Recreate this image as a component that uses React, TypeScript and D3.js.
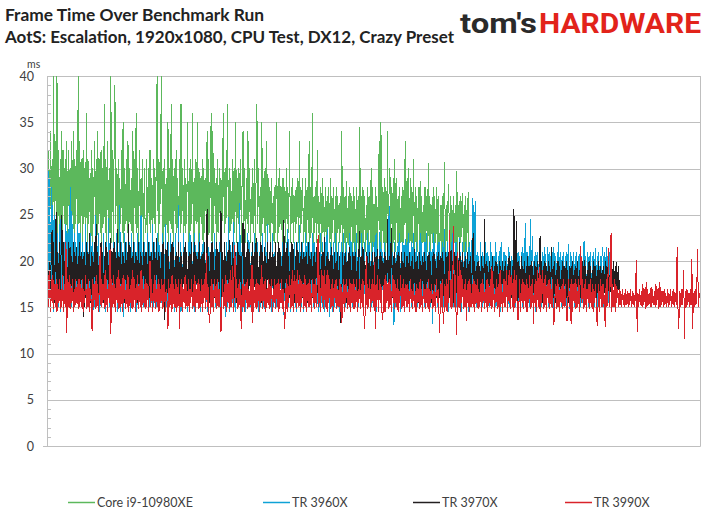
import { useEffect, useRef } from 'react';
import * as d3 from 'd3';

const SERIES_NAMES = ['Core i9-10980XE', 'TR 3960X', 'TR 3970X', 'TR 3990X'];
const SERIES_COLORS = ['#5cb85c', '#0ea2d6', '#231f20', '#d9232a'];
const Y_TICKS = [0, 5, 10, 15, 20, 25, 30, 35, 40];
const LEGEND_X = [68, 263, 413, 565];

// frame times in ms (one value per ~0.8px of the run)
const i9Frames = [
  24, 32, 23, 34, 22, 31, 24, 40, 23, 33, 25, 40, 22, 32, 24, 31, 23, 34, 22, 32,
  24, 31, 23, 33, 22, 32, 24, 30, 23, 33, 25, 34, 22, 31, 24, 32, 23, 40, 24, 33,
  23, 31, 22, 32, 24, 30, 23, 36, 22, 31, 24, 29, 23, 32, 22, 30, 24, 33, 23, 31,
  22, 34, 24, 31, 23, 32, 22, 30, 24, 37, 23, 31, 22, 33, 24, 30, 23, 40, 22, 32,
  22, 32, 39, 24, 30, 23, 31, 22, 29, 24, 32, 23, 35, 22, 30, 24, 31, 23, 33, 22,
  30, 24, 29, 23, 34, 22, 31, 24, 36, 23, 30, 22, 32, 24, 29, 23, 31, 22, 30, 24,
  23, 31, 22, 30, 24, 32, 23, 29, 22, 31, 24, 30, 23, 38, 40, 22, 31, 24, 32, 40,
  23, 30, 22, 31, 24, 29, 23, 35, 22, 30, 24, 37, 23, 31, 22, 30, 24, 32, 23, 29,
  22, 31, 23, 37, 24, 30, 22, 31, 23, 29, 24, 35, 22, 30, 23, 31, 24, 36, 22, 29,
  23, 31, 24, 35, 22, 30, 23, 29, 24, 31, 22, 30, 23, 29, 24, 34, 22, 31, 23, 30,
  36, 22, 34, 23, 30, 24, 29, 22, 31, 23, 30, 24, 29, 22, 31, 36, 23, 30, 24, 29,
  37, 22, 30, 23, 29, 24, 31, 22, 30, 23, 35, 22, 29, 24, 30, 23, 31, 22, 30, 34,
  23, 30, 22, 29, 24, 34, 23, 30, 22, 28, 24, 30, 23, 31, 22, 29, 37, 24, 30, 23,
  28, 22, 35, 24, 29, 23, 30, 22, 33, 24, 29, 23, 28, 22, 29, 24, 27, 22, 28, 23,
  35, 22, 29, 23, 30, 24, 28, 22, 29, 23, 28, 22, 30, 24, 28, 23, 34, 22, 28, 24,
  29, 22, 27, 23, 28, 24, 29, 22, 33, 23, 28, 24, 29, 22, 27, 23, 29, 22, 28, 23,
  33, 22, 28, 23, 36, 21, 27, 23, 28, 22, 32, 23, 27, 22, 28, 21, 29, 23, 27, 22,
  28, 21, 27, 23, 28, 22, 29, 21, 27, 23, 28, 22, 27, 21, 28, 23, 26, 22, 27, 23,
  34, 21, 28, 22, 27, 21, 28.7, 22, 27, 21, 28, 22, 27, 21, 28, 22, 27, 21, 28, 22,
  27, 21, 34.5, 22, 27, 21, 28, 22, 27, 21, 26, 22, 28, 21, 27, 22, 30, 21, 28, 22,
  21, 28, 22, 27, 21, 29, 33, 22, 35, 21, 28, 22, 29, 21, 28, 22, 34, 21, 28, 30,
  22, 28, 21, 29, 22, 31, 21, 29, 22, 27, 21, 28, 22, 27, 21, 28, 22, 29, 33, 21,
  29, 21, 30, 22, 29, 21, 28, 22, 31, 21, 28, 22, 27, 21, 28, 22, 28.6, 21, 27, 22,
  26, 21, 28, 22, 27, 21, 30.6, 22, 27, 21, 26, 22, 28, 21, 27, 22, 28, 21, 27, 21,
  21, 26, 20, 27, 21, 26, 30.7, 21, 26, 22, 26, 28.3, 21, 27, 20, 26, 21, 27, 22, 26,
  21, 29.7, 20, 26, 21, 27, 22, 26, 27.4, 21, 26, 20, 27, 21, 25, 27.5, 21, 22,
];

const tr3960Frames = [
  30, 16, 29, 15, 28, 15.5, 26, 14.5, 25, 15, 24, 15.5, 23, 15, 24, 14.5, 25, 16, 23, 15,
  22, 15, 24, 14.5, 23, 15, 26, 15.5, 28, 15, 24, 14.5, 23, 15, 22, 15.5, 24, 15, 23, 15.5,
  23, 15, 22, 14.5, 21, 15, 24, 15.5, 22, 15, 21, 14.5, 23, 15, 22, 13.5, 21, 15, 25, 15,
  22, 15.5, 23, 14.5, 21, 15, 22, 15.5, 23, 15, 21, 14.5, 22, 15, 24.6, 15, 22, 14.5, 21, 15,
  22, 15, 21, 15.5, 23, 14.5, 21, 15, 26, 14.5, 22, 15, 21, 14, 23, 15, 22, 15.5, 21, 15,
  22, 14.5, 23, 15, 21, 15.5, 22, 15, 21, 14.5, 23, 15, 22, 15.5, 25, 14.5, 21, 15, 22, 15,
  21, 15, 23, 14.5, 22, 15, 21, 15.5, 24, 15, 22, 15.5, 21, 15, 23, 14.5, 22, 15, 21, 15.5,
  23, 15, 22, 14.5, 24, 15, 21, 13.8, 22, 15, 23, 15.5, 21, 15, 22, 14.5, 23, 15, 21, 15.5,
  26, 15, 22, 14.5, 21, 15, 23, 15.5, 22, 15, 21, 14.5, 22, 15, 23, 15.5, 21, 15, 22, 14.5,
  23, 15, 21, 15.5, 22, 15, 23, 14.5, 21, 15, 22, 15.5, 21, 15, 23, 14.5, 22, 15, 21, 15,
  22, 15, 21, 14.5, 23, 15, 22, 15.5, 21, 15, 22, 14.5, 23, 15, 21, 15.5, 22, 15, 14, 22,
  15, 24.8, 14.5, 22, 15, 21, 15.5, 24.2, 15, 22, 14.5, 21, 15, 22, 15.5, 26.3, 15, 21, 14.5, 22,
  15, 22, 14.5, 21, 15, 23, 15.5, 22, 15, 21, 14.5, 22, 15, 23, 15.5, 21, 15, 22, 14.5, 21,
  15, 22, 15.5, 23, 15, 21, 14.5, 22, 15, 24, 15.5, 21, 15, 22, 14.5, 23, 15, 21, 15.5, 22,
  15, 21, 14.5, 22, 15, 21, 15.5, 22, 15, 14.2, 21, 15, 22, 15.5, 23.5, 15, 21, 14.5, 22, 15,
  21, 15.5, 22, 15, 21, 14.5, 22, 15, 23.9, 15.5, 21, 15, 22, 14.5, 21, 15, 23, 15.5, 22, 15,
  22, 15, 21, 14.5, 23, 15, 22, 15.5, 21, 15, 22, 14.5, 21, 15, 23, 15.5, 22, 15, 21, 14.5,
  22, 15, 23.5, 15.5, 21, 13.9, 22, 15, 21, 14.5, 22, 15, 23, 15.5, 21, 15, 22, 14.5, 21, 15,
  22, 15, 23, 14.5, 21, 15, 22, 15.5, 21, 15, 23, 14.5, 22, 15, 21, 15.5, 22, 15, 23, 14.5,
  21, 15, 22, 15.5, 23, 15, 21, 14.5, 22, 15, 21, 15.5, 23, 15, 22, 14.5, 21, 15, 22, 15,
  22, 15, 23, 14.5, 21, 15, 23.1, 15.5, 22, 15, 21, 14.5, 22, 15, 21, 15.5, 23, 15, 25.9, 15,
  22, 14.5, 21, 15, 13.1, 22, 15, 21, 15.5, 22, 15, 23, 14.5, 21, 15, 22, 15.5, 21, 22.4, 15,
  22, 15, 23, 14.5, 21, 15, 22, 15.5, 23, 15, 21, 14.5, 22, 15, 21, 15.5, 23, 15, 22, 14.5,
  21, 15, 22, 15.5, 23, 15, 21, 14.5, 22, 15, 21, 13.2, 23, 15, 22, 15.5, 21, 15, 22, 15,
  22, 15, 21, 14.5, 22, 15, 23.5, 15.5, 21, 15, 22, 14.5, 21, 15, 22, 15.5, 23, 15, 21, 14.5,
  22, 15, 21, 15.5, 22.5, 15, 21, 14.5, 22, 15, 21, 15.5, 22, 15, 21, 14.5, 22, 15, 21, 15,
  26.8, 15, 26, 14.5, 26.5, 15, 21, 15.5, 20.5, 15, 22, 14.5, 21, 15, 20.5, 15.5, 22.1, 15, 21, 14.5,
  20.5, 15, 22, 15.5, 21, 15, 20.5, 14.5, 22, 15, 21, 15.5, 20.5, 15, 21.5, 14.5, 22, 15, 21, 15,
  21, 15, 20.5, 14.5, 21.5, 15, 21, 15.5, 20.5, 15, 21, 14.5, 21.5, 15, 20.5, 15.5, 21, 15, 20.5, 14.5,
  21, 15, 21.5, 15.5, 20.5, 24.1, 15, 21, 14.5, 20.5, 15, 24.5, 15.5, 21, 22.7, 15, 20.5, 14.5, 21, 14.8,
  21, 15, 21.5, 14.5, 20.5, 15, 21, 15.5, 21.5, 15, 20.8, 14.5, 21.5, 15, 21, 15.5, 20.5, 15, 21, 14.5,
  21.5, 15, 20.5, 15.5, 21, 15, 22.1, 14.5, 21, 15, 20.5, 15.5, 21, 15, 20.5, 14.5, 21, 15, 21.8, 14.8,
  21, 15, 20.5, 14.5, 21, 15, 20.5, 15.5, 21, 15, 20.5, 14.5, 21, 15, 20.5, 15.5, 21, 22.2, 15, 20.5,
  14.5, 21, 15, 20.5, 15.5, 21, 15, 20.5, 14.5, 21, 15, 21.4, 15.5, 20.5, 15, 21, 14.5, 20.5, 15, 21,
  21.5, 15, 21, 15.5, 21.5, 15, 20.5, 15.5, 21, 19,
];

const tr3970Frames = [
  19, 16, 20, 16.5, 21, 23.3, 16, 22, 15.5, 21, 25.3, 16, 21, 16.5, 22, 15.5, 21, 25, 16, 22,
  16.5, 20.5, 16, 21, 15.5, 22, 16, 21.5, 16.5, 20.5, 16, 22, 15.5, 21, 16, 21.5, 16.5, 20.5, 16, 22,
  16, 21, 16.5, 20.5, 14, 21, 16, 22, 16.5, 21, 16, 23, 15.5, 21, 16, 20.5, 16.5, 22, 16, 24,
  15.5, 21, 16, 20.5, 16.5, 22, 16, 21, 15.5, 20.5, 16, 22, 16.5, 21, 16, 20.5, 15.5, 22.5, 16, 21,
  16, 22, 16.5, 21, 16, 23.5, 15.5, 20.5, 16, 22, 16.5, 21, 16, 20.5, 15.5, 22, 16, 21, 16.5, 24,
  16, 21.5, 15.5, 20.5, 16, 22, 16.5, 21, 16, 20.5, 15.5, 22, 16, 21, 16.5, 20.5, 16, 22, 16.5, 21,
  16, 21, 16.5, 22, 16, 20.5, 15.5, 21, 16, 22, 16.5, 21, 16, 22.5, 16, 21, 15.5, 20.5, 16, 21,
  16.5, 22, 15.5, 13.6, 21.3, 16, 22, 16.5, 20.5, 16, 21, 15.5, 22, 16, 21.5, 16.5, 20.5, 16, 21, 16,
  22, 16, 21, 16.5, 20.5, 15.5, 21, 16, 22, 16.5, 21, 16, 20.5, 15.5, 21, 16, 22.1, 16.5, 21, 16,
  22, 15.5, 20.5, 16, 21, 16.5, 22, 16, 20.5, 15.5, 21, 16, 22, 16.5, 21, 25.6, 16, 20.5, 15.5, 21,
  16, 22, 16.5, 21, 16, 20.5, 15.5, 22, 16, 21, 16.5, 22, 25.4, 16, 21, 15.5, 22, 16, 20.5, 16.5,
  21, 16, 22.3, 15.5, 21, 16, 22, 16.5, 20.5, 16, 21, 15.5, 22, 16, 21, 16.5, 20.5, 16, 22, 24.1,
  16, 23.5, 16.5, 21, 16, 22, 15.5, 21, 16, 20.5, 16.5, 22, 16, 21, 15.5, 22.5, 16, 21, 16.5, 20.5,
  16, 22, 15.5, 21, 16, 21.5, 16.5, 20.5, 16, 22, 15.5, 21, 16, 22, 16.5, 21, 16, 20.5, 15.5, 22,
  16, 21, 16.5, 22, 16, 21, 15.5, 20.5, 16, 24.4, 16.5, 21, 16, 22, 15.5, 20.5, 16, 21, 16.5, 22,
  16, 21.3, 15.5, 20.5, 16, 22, 16.5, 21, 16, 20.5, 15.5, 22, 16, 21, 16.5, 20.5, 16, 21, 15.5, 22,
  16, 20.5, 16.5, 21, 16, 20.5, 15.5, 21, 16, 21.5, 16.5, 20, 16, 21, 15.5, 20.5, 16, 21, 16.5, 22.6,
  16, 20.5, 15.5, 21, 16, 20, 16.5, 21.5, 16, 20.5, 15.5, 21, 16, 20, 16.5, 21, 16, 20.5, 15.5, 13.3,
  16, 21, 16.5, 20.5, 16, 21, 15.5, 20, 16, 21.5, 16.5, 20.5, 16, 21, 15.5, 20.5, 16, 21, 16.5, 20,
  16, 21, 23.2, 15.5, 20.5, 16, 21.5, 16.5, 20, 16, 21, 15.5, 20.5, 16, 21, 16.5, 20, 16, 21, 16,
  21, 16, 20.5, 15.5, 21.3, 16, 20.5, 16.5, 21, 16, 20, 15.5, 21, 16, 20.5, 16.5, 24.5, 16, 20.5, 15.5,
  21, 23.6, 16, 20.5, 16.5, 21, 16, 20, 15.5, 21, 16, 20.5, 16.5, 21, 16, 20, 15.5, 21, 16, 20.5,
  16, 20.5, 16.5, 21, 16, 20, 15.5, 20.5, 16, 21.3, 16.5, 20, 16, 20.5, 15.5, 21, 16, 20, 16.5, 20.5,
  16, 21, 15.5, 20, 16, 20.5, 16.5, 21, 16, 20, 15.5, 20.5, 16, 21, 16.5, 20, 16, 20.5, 15.5, 21,
  16, 20.5, 16.5, 21, 16, 20, 15.5, 21, 16, 20.5, 16.5, 21, 16, 20.5, 21.2, 16, 20, 15.5, 21, 16,
  20.5, 16.5, 20, 16, 22, 15.5, 20.5, 16, 21, 16.5, 20, 16, 20.5, 15.5, 21, 16, 20, 16.5, 20.5, 16,
  20, 23, 16, 20, 16.5, 19.5, 16, 20, 15.5, 19.5, 16, 20.5, 16.5, 19.5, 16, 24.5, 15.5, 20, 16, 19.5,
  16.5, 20, 16, 19.5, 15.5, 20.5, 16, 19.5, 16.5, 20, 16, 19.5, 15.5, 20, 16, 19.5, 16.5, 20, 16, 19.5,
  16, 20, 16.5, 19.5, 16, 20.5, 15.5, 20, 16, 19.5, 16.5, 25.6, 16, 20, 24.3, 15.5, 20, 16, 19.5, 16.5,
  20.5, 16, 19.5, 15.5, 20, 16, 19.5, 16.5, 20.5, 16, 19.5, 15.5, 20, 16, 19.5, 16.5, 20, 16, 19.5, 16,
  20, 16.5, 19.5, 22.7, 16, 20, 15.5, 19.5, 16, 20, 16.5, 19.5, 16, 20, 15.5, 19.5, 16, 21.5, 16.5, 19.5,
  16, 20, 15.5, 19, 16, 20, 16.5, 19.5, 16, 19, 15.5, 20, 16, 19.5, 16.5, 20, 16, 19, 15.5, 19.5,
  16, 19.5, 16.5, 20, 16, 19, 15.5, 19.5, 16, 20, 16.5, 19, 16, 19.5, 15.5, 20, 16, 20.1, 16.5, 19.5,
  16, 19, 15.5, 20, 16, 19.5, 16.5, 19, 16, 20, 15.5, 19.5, 16, 19, 16.5, 20, 16, 19.5, 15.5, 19,
  16, 19.5, 16.5, 20, 16, 19.5, 15.5, 20, 16, 19.5, 16.5, 19.9, 16, 20, 15.5, 19.5, 16, 19.9, 16.5, 19.5, 16, 18,
];

const tr3990Frames = [
  18.5, 15, 19, 14.5, 18, 15.5, 18.5, 14.8, 17.5, 15, 18, 14.5, 17.5, 15.5, 18, 14.8, 17, 15, 18.5, 14.5,
  17.5, 15, 22.1, 12.2, 18, 15, 18.5, 14.8, 17.5, 15.5, 18, 14.5, 17, 15, 18, 15.5, 17.5, 14.8, 18, 15,
  17.5, 15, 18, 14.5, 17, 15.5, 18.5, 14.8, 17.5, 15, 18, 14.5, 17, 15.5, 12.4, 18, 15, 17.5, 14.8, 18.5,
  15, 17.5, 14.5, 18, 21.5, 15, 18, 15.5, 17.5, 14.8, 19, 15, 18, 14.5, 17.5, 15.5, 21.3, 12.1, 18, 15,
  18.5, 15, 17.5, 14.5, 18, 15.5, 19, 14.8, 18, 15, 17.5, 14.5, 18.5, 15.5, 18, 14.8, 17.5, 15, 18.5, 14.5,
  17, 15.5, 18, 14.8, 19, 15, 18, 14.5, 17.5, 15.5, 18.5, 14.8, 17.5, 15, 19, 14.5, 18, 15.5, 17.5, 14.8,
  18, 15, 17.5, 14.5, 18, 20, 15, 18, 14.5, 17.5, 15.5, 18.5, 14.8, 17, 15, 18, 14.5, 17.5, 15.5, 18,
  14.8, 17.5, 15, 18, 14.5, 17, 15.5, 12.6, 18, 15, 17.5, 14.5, 18.5, 14.8, 17.5, 15, 18, 14.5, 17.5, 15,
  18, 12.7, 17.5, 15, 18, 14.5, 17, 15.5, 18.5, 14.8, 17.5, 15, 18, 14.5, 17, 15.5, 18, 14.8, 17.5, 15,
  18.5, 14.5, 17, 15.5, 18, 14.8, 17.5, 15, 18, 14.5, 17.5, 15.5, 18, 14.8, 20.9, 15, 17.5, 14.5, 13.3, 15,
  18, 15, 17.5, 14.5, 18, 15.5, 17.5, 14.8, 18, 15, 17, 14.5, 12.3, 15.5, 18, 14.8, 17.5, 15, 18.5, 14.5,
  17.5, 15.5, 18, 14.8, 19, 15, 19.5, 14.5, 18.5, 21.7, 15.5, 18, 14.8, 17.5, 15, 18, 14.5, 12.7, 17.5, 15,
  18, 14.5, 17.5, 15.5, 18, 14.8, 17, 15, 18, 14.5, 19.6, 13.3, 18, 15.5, 17.5, 14.8, 18, 15, 17.5, 14.5,
  18, 15.5, 19.6, 14.8, 17.5, 15, 18, 14.5, 17, 15.5, 18, 14.8, 17.5, 15, 18, 14.5, 17, 15.5, 18, 14.8,
  17.5, 15, 18, 14.5, 17.5, 15.5, 18, 14.8, 17, 15, 12.7, 15, 18, 14.5, 17.5, 15.5, 18.5, 14.8, 18, 15,
  19, 14.5, 18.5, 15.5, 18, 14.8, 19, 15, 18.5, 14.5, 18, 15.5, 17.5, 14.8, 18.5, 15, 18, 14.5, 17.5, 15,
  18, 15, 17.5, 14.5, 18, 15.5, 17.5, 14.8, 18, 15, 18.5, 22.8, 15, 18.5, 14.5, 19, 15.5, 18.5, 14.8, 19,
  15, 18.5, 14.5, 19, 15.5, 18, 14.8, 17.5, 15, 18, 14.5, 17.5, 15.5, 18, 14.8, 17, 15, 18, 14.5, 17.5,
  13.3, 15, 18, 14.5, 17.5, 15.5, 18, 14.8, 17, 15, 18, 14.5, 17.5, 15.5, 18, 14.8, 17.5, 15, 18, 14.5,
  17, 15.5, 18, 14.8, 17.5, 15, 18, 14.5, 12.7, 15.5, 20.5, 14.8, 17.5, 15, 18, 14.5, 17.5, 15.5, 18, 15,
  19.9, 12.7, 17.5, 15, 18.5, 14.5, 18, 15.5, 17.5, 14.8, 13.6, 15, 18, 14.5, 18.5, 15.5, 17.5, 14.8, 18, 15,
  17.5, 14.5, 18.5, 15.5, 18, 14.8, 17.5, 15, 18, 14.5, 17, 15.5, 18.5, 14.8, 17.5, 15, 18, 14.5, 17.5, 15,
  17.5, 15, 17, 14.5, 18, 15.5, 17, 14.8, 17.5, 15, 16.8, 14.5, 17.5, 15.5, 17, 14.8, 18, 15, 17, 14.5,
  17.5, 15.5, 17, 14.8, 17.5, 15, 18, 14.5, 17, 15.5, 17.5, 14.8, 16.8, 15, 17.5, 14.5, 18, 15.5, 17, 14.8,
  12.2, 17.5, 15, 18, 14.5, 13.2, 17.5, 15, 18, 14.5, 17.5, 15.5, 23.3, 15, 18, 14.8, 17.5, 23.8, 15, 18.5,
  14.5, 12, 21, 15, 20, 14.5, 19, 15.5, 18, 14.8, 17.5, 15, 18, 13.5, 17.5, 15, 18, 14.5, 17.5, 15,
  17.5, 15, 18, 14.5, 17.5, 15.5, 18, 14.8, 17, 15, 17.5, 14.5, 18, 15.5, 17.5, 14.8, 17, 15, 18, 14.5,
  17.5, 15.5, 18, 14.8, 19.4, 15, 17.5, 14.5, 17, 15.5, 18, 14.8, 17.5, 14, 19, 15, 17.5, 14.5, 18, 15,
  18, 15, 19, 14.5, 18.5, 15.5, 19, 14.8, 18.5, 15, 18, 14.5, 19, 15.5, 18.5, 14.8, 13.6, 15, 18, 14.5,
  17.5, 15.5, 18, 14.8, 17.5, 15, 18, 14.5, 17.5, 15.5, 18.5, 14.8, 17.5, 15, 18, 13.2, 17.5, 15, 18, 14.5,
  19, 15, 19.3, 14.5, 18.5, 15.5, 19, 14.8, 18, 15, 18.5, 14.5, 17.5, 15.5, 18, 14.8, 17.5, 15, 18, 14.5,
  13.1, 15.5, 17.5, 14.8, 18, 15, 17.5, 14.5, 17, 15.5, 17.5, 14.8, 18, 15, 17.5, 14.5, 13.5, 15.5, 18, 15,
  17.5, 13.2, 18, 14.5, 17.5, 15.5, 18, 14.8, 17.5, 15, 18, 14.5, 17.5, 21.6, 15.5, 18, 14.8, 17.5, 15, 18,
  14.5, 17, 15.5, 17.5, 14.8, 18, 15, 17.5, 14.5, 17, 15.5, 17.5, 14.8, 13, 15, 17.5, 14.5, 18, 15, 17.5,
  15, 17.5, 14.5, 12.9, 18, 15, 17.5, 21.4, 15, 18, 23, 14.5, 17.5, 15, 18, 14.5, 17.5, 15.5, 17, 15,
  17, 15.2, 16.8, 15, 17, 15.2, 16.5, 15, 17, 15.2, 16.8, 15, 16.5, 15.2, 17, 15, 16.8, 15.2, 16.5, 15,
  16.8, 20.1, 12.3, 16.5, 15, 17, 15.2, 16.8, 15, 17.5, 15.2, 17, 14.8, 17.7, 15, 17, 15.2, 16.5, 15, 17.2,
  15, 17, 15.2, 16.8, 15, 17.5, 15.2, 17, 14.8, 17.7, 15, 17.2, 15.2, 16.8, 15, 17, 15.2, 16.5, 15, 17,
  15, 16.5, 15.2, 17, 15, 16.8, 15.2, 17, 15, 16.5, 15.2, 21.5, 15, 12.7, 16.8, 15, 17, 15.2, 16.5, 19,
  11.6, 16.8, 15, 17, 15.2, 16.5, 15, 17, 15.2, 20.2, 12.6, 16.5, 15, 17, 15.2, 16.8, 21.3, 15, 16.5, 16,
];

const SERIES = [i9Frames, tr3960Frames, tr3970Frames, tr3990Frames];

export default function App() {
  const svgRef = useRef<SVGSVGElement>(null);
  const width = 709;
  const height = 531;

  useEffect(() => {
    if (!svgRef.current) return;
    const svg = d3.select(svgRef.current);
    svg.selectAll('*').remove();

    const plot = { left: 47.5, right: 700.5, top: 76, bottom: 446 };
    const font = 'Lato, "Open Sans", sans-serif';

    const x = d3
      .scaleLinear()
      .domain([0, tr3990Frames.length - 1])
      .range([plot.left + 0.5, plot.right - 0.5]);
    const y = d3.scaleLinear().domain([0, 40]).range([plot.bottom, plot.top]);

    svg.append('rect').attr('width', width).attr('height', height).attr('fill', '#fff');

    // Titles
    svg
      .append('text')
      .attr('x', 5)
      .attr('y', 21)
      .attr('font-family', font)
      .attr('font-weight', 700)
      .attr('font-size', 17.5)
      .attr('fill', '#222')
      .attr('textLength', 259)
      .attr('lengthAdjust', 'spacingAndGlyphs')
      .text('Frame Time Over Benchmark Run');
    svg
      .append('text')
      .attr('x', 5)
      .attr('y', 43)
      .attr('font-family', font)
      .attr('font-weight', 700)
      .attr('font-size', 17.5)
      .attr('fill', '#222')
      .attr('textLength', 449)
      .attr('lengthAdjust', 'spacingAndGlyphs')
      .text('AotS: Escalation, 1920x1080, CPU Test, DX12, Crazy Preset');

    // Logo
    const logo = svg
      .append('text')
      .attr('y', 33)
      .attr('font-family', 'Roboto, "DejaVu Sans", sans-serif')
      .attr('font-weight', 700)
      .attr('font-size', 28);
    logo
      .append('tspan')
      .attr('x', 460)
      .attr('fill', '#2a2a2a')
      .attr('textLength', 77)
      .attr('lengthAdjust', 'spacingAndGlyphs')
      .text("tom's");
    logo
      .append('tspan')
      .attr('x', 539)
      .attr('fill', '#e2231a')
      .attr('textLength', 162)
      .attr('lengthAdjust', 'spacingAndGlyphs')
      .text('HARDWARE');

    // Grid
    const grid = svg.append('g').attr('stroke', '#bfbfbf').attr('stroke-width', 1);
    Y_TICKS.filter((t) => t > 0).forEach((t) => {
      const yy = Math.round(y(t)) + 0.5;
      grid.append('line').attr('x1', plot.left).attr('x2', plot.right).attr('y1', yy).attr('y2', yy);
    });

    // Series, green first so red ends up on top
    const line = d3
      .line<number>()
      .x((_, i) => x(i))
      .y((d) => y(d));
    SERIES.forEach((values, k) => {
      svg
        .append('path')
        .datum(values)
        .attr('d', line)
        .attr('fill', 'none')
        .attr('stroke', SERIES_COLORS[k])
        .attr('stroke-width', 1)
        .attr('stroke-linejoin', 'bevel')
        .attr('shape-rendering', 'crispEdges');
    });

    // Axes
    const axis = svg.append('g').attr('stroke', '#bfbfbf').attr('stroke-width', 1);
    axis
      .append('line')
      .attr('x1', plot.left)
      .attr('x2', plot.left)
      .attr('y1', plot.top)
      .attr('y2', plot.bottom + 0.5);
    axis
      .append('line')
      .attr('x1', plot.right)
      .attr('x2', plot.right)
      .attr('y1', plot.top)
      .attr('y2', plot.bottom + 0.5);
    axis
      .append('line')
      .attr('x1', 43)
      .attr('x2', plot.right)
      .attr('y1', plot.bottom + 0.5)
      .attr('y2', plot.bottom + 0.5);
    d3.range(0, 41).forEach((t) => {
      const yy = Math.round(y(t)) + 0.5;
      axis.append('line').attr('x1', plot.left).attr('x2', plot.left + 3.5).attr('y1', yy).attr('y2', yy);
    });

    svg
      .append('g')
      .selectAll('text')
      .data(Y_TICKS)
      .join('text')
      .attr('x', 34)
      .attr('y', (d) => y(d))
      .attr('dy', '0.36em')
      .attr('text-anchor', 'end')
      .attr('font-family', font)
      .attr('font-size', 12.5)
      .attr('fill', '#404040')
      .text((d) => d);

    svg
      .append('text')
      .attr('x', 27)
      .attr('y', 67.5)
      .attr('font-family', font)
      .attr('font-size', 10.5)
      .attr('fill', '#404040')
      .text('ms');

    // Legend
    const legend = svg.append('g');
    SERIES_NAMES.forEach((name, k) => {
      legend
        .append('line')
        .attr('x1', LEGEND_X[k])
        .attr('x2', LEGEND_X[k] + 27)
        .attr('y1', 502.5)
        .attr('y2', 502.5)
        .attr('stroke', SERIES_COLORS[k])
        .attr('stroke-width', 1.5);
      legend
        .append('text')
        .attr('x', LEGEND_X[k] + 29)
        .attr('y', 502.5)
        .attr('dy', '0.35em')
        .attr('font-family', font)
        .attr('font-size', 12.5)
        .attr('fill', '#404040')
        .text(name);
    });
  }, []);

  return (
    <svg
      ref={svgRef}
      width={width}
      height={height}
      style={{ position: 'absolute', left: 0, top: 0, display: 'block' }}
    />
  );
}
